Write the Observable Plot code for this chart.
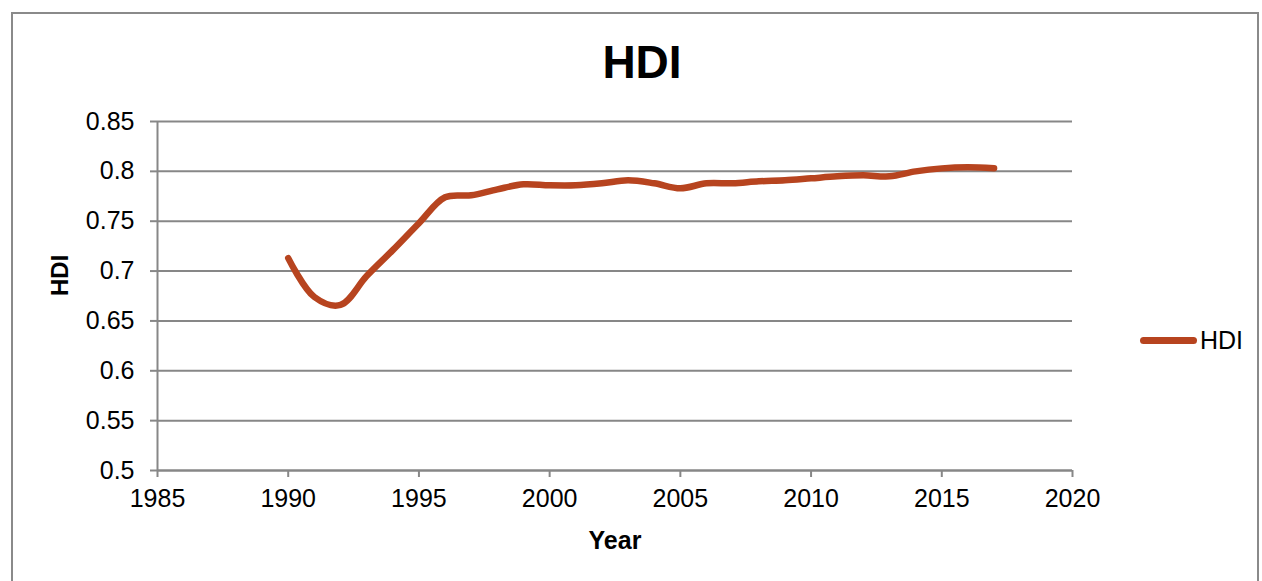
<!DOCTYPE html>
<html>
<head>
<meta charset="utf-8">
<script src="https://cdn.jsdelivr.net/npm/d3@7"></script>
<script src="https://cdn.jsdelivr.net/npm/@observablehq/plot@0.6"></script>
<style>
  body { margin: 0; background: #fff; font-family: "Liberation Sans", Arial, sans-serif; }
  #wrap { position: relative; width: 1262px; height: 581px; overflow: hidden; }
  #frame { position: absolute; left: 11px; top: 12px; width: 1248px; height: 600px; border: 2px solid #8a8a8a; box-sizing: border-box; }
  #title { position: absolute; left: 0; width: 1284px; top: 37px; text-align: center; font-weight: bold; font-size: 46px; line-height: 50px; }
  #legend { position: absolute; left: 1140px; top: 326px; display: flex; align-items: center; font-size: 25px; }
  #legend .sw { width: 57px; height: 7px; border-radius: 4px; background: #b7441f; margin-right: 3px; }
  #chart { position: absolute; left: 0; top: 0; }
</style>
</head>
<body>
<div id="wrap">
  <div id="frame"></div>
  <div id="chart"></div>
  <div id="title">HDI</div>
  <div id="legend"><div class="sw"></div><span>HDI</span></div>
</div>
<script>
const years = [1990,1991,1992,1993,1994,1995,1996,1997,1998,1999,2000,2001,2002,2003,2004,2005,2006,2007,2008,2009,2010,2011,2012,2013,2014,2015,2016,2017];
const hdi = [0.713,0.674,0.666,0.695,0.721,0.748,0.774,0.776,0.782,0.787,0.786,0.786,0.788,0.791,0.788,0.783,0.788,0.788,0.790,0.791,0.793,0.795,0.796,0.795,0.800,0.803,0.804,0.803];
const xTicks = [1985,1990,1995,2000,2005,2010,2015,2020];
const yTicks = [0.5,0.55,0.6,0.65,0.7,0.75,0.8,0.85];
const yTickLabels = ["0.5","0.55","0.6","0.65","0.7","0.75","0.8","0.85"];

const data = years.map((y, i) => ({year: y, hdi: hdi[i]}));
const grey = "#878787";

const chart = Plot.plot({
  width: 1262,
  height: 581,
  marginLeft: 157,
  marginRight: 190,
  marginTop: 121,
  marginBottom: 111,
  style: {fontFamily: '"Liberation Sans", Arial, sans-serif', fontSize: "25px", color: "black", background: "transparent", overflow: "visible"},
  x: {domain: [1985, 2020]},
  y: {domain: [0.5, 0.85]},
  marks: [
    Plot.gridY(yTicks, {stroke: grey, strokeOpacity: 1, strokeWidth: 2}),
    Plot.axisY(yTicks, {tickSize: 7, tickPadding: 16, stroke: grey, strokeWidth: 2, strokeOpacity: 1, fill: "black", tickFormat: (d, i) => yTickLabels[i], label: null}),
    Plot.axisX(xTicks, {tickSize: 7, tickPadding: 12, stroke: grey, strokeWidth: 2, strokeOpacity: 1, fill: "black", tickFormat: d => String(d), label: null}),
    Plot.ruleX([1985], {y1: 0.5, y2: 0.85, stroke: grey, strokeWidth: 2}),
    Plot.ruleY([0.5], {stroke: grey, strokeWidth: 2}),
    Plot.line(data, {x: "year", y: "hdi", curve: "catmull-rom", stroke: "#b7441f", strokeWidth: 6.5, strokeLinecap: "round", strokeLinejoin: "round"}),
    Plot.text(["Year"], {frameAnchor: "bottom", dy: 78, fontWeight: "bold", fontSize: 25, fill: "black"}),
    Plot.text(["HDI"], {frameAnchor: "left", dx: -97, rotate: -90, fontWeight: "bold", fontSize: 24, fill: "black"})
  ]
});
document.getElementById("chart").appendChild(chart);
</script>
</body>
</html>
